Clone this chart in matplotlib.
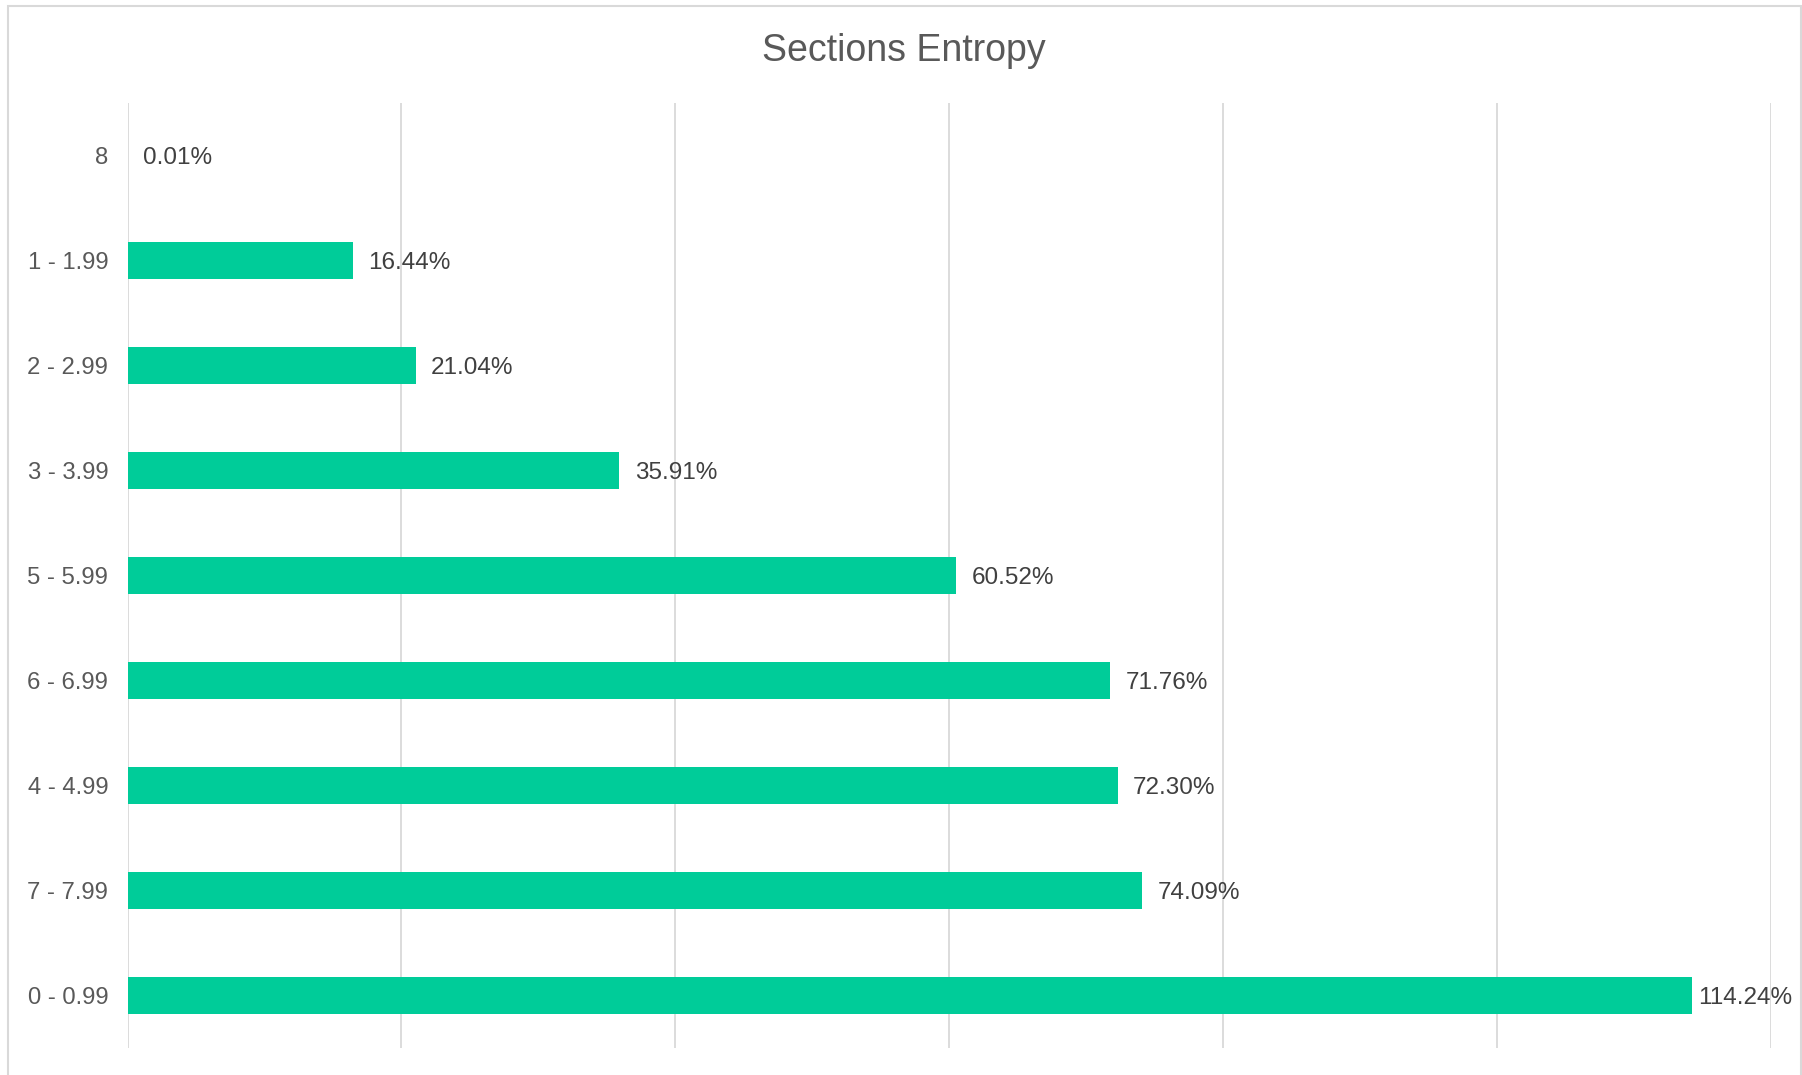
import matplotlib
matplotlib.use("Agg")
import matplotlib.pyplot as plt
from matplotlib.patches import Rectangle

plt.rcParams['font.family'] = ['Liberation Sans', 'DejaVu Sans']

# entropy ranges, listed top to bottom
ranges = ["8", "1 - 1.99", "2 - 2.99", "3 - 3.99", "5 - 5.99",
          "6 - 6.99", "4 - 4.99", "7 - 7.99", "0 - 0.99"]
percents = [0.01, 16.44, 21.04, 35.91, 60.52, 71.76, 72.30, 74.09, 114.24]

bar_color = "#00CC99"
grid_color = "#D9D9D9"

fig = plt.figure(figsize=(18.02, 10.75), dpi=100)
ax = fig.add_axes([0.0708, 0.0251, 0.912, 0.879])

ypos = list(range(len(ranges)))
ax.barh(ypos, percents, height=0.35, color=bar_color, zorder=3)

for y, v in zip(ypos, percents):
    # the longest label gets pulled in so it stays inside the chart
    off = 4 if v > 110 else 11
    ax.annotate(f"{v:.2f}%", (v, y), xytext=(off, 0), textcoords="offset points",
                va="center_baseline", ha="left", fontsize=17.5, color="#404040", zorder=4)

ax.set_xlim(0, 120)
ax.set_ylim(len(ranges) - 0.5, -0.5)
ax.set_xticks(range(0, 121, 20))
ax.set_xticklabels([])
ax.tick_params(axis="x", length=0)
ax.set_yticks(ypos)
ax.set_yticklabels(ranges, fontsize=17.2, color="#595959")
ax.tick_params(axis="y", length=0, pad=14)
ax.grid(axis="x", color=grid_color, linewidth=1.3, zorder=0)
for s in ax.spines.values():
    s.set_visible(False)

fig.text(0.5017, 0.953, "Sections Entropy", ha="center", va="center",
         fontsize=27, color="#595959")

# light chart border
fig.patches.append(Rectangle((0.0042, -0.05), 0.9950, 1.0444, transform=fig.transFigure,
                             fill=False, edgecolor=grid_color, linewidth=1.5))

fig.savefig("out.png", dpi=100)
